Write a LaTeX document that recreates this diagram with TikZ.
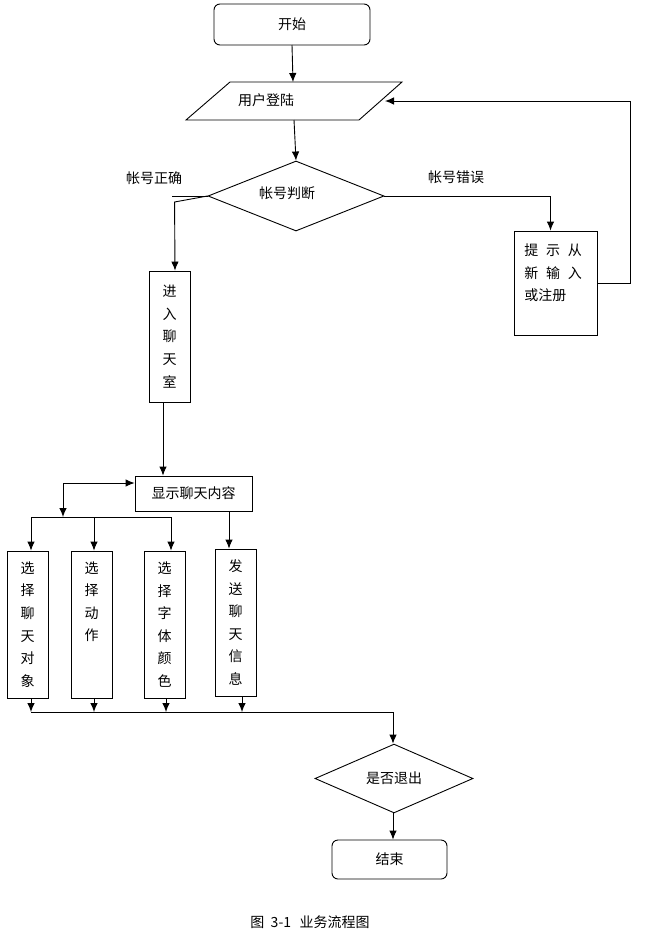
\documentclass[tikz,border=0pt]{standalone}
\usepackage{fontspec}
\setmainfont{Noto Sans CJK SC}
\usetikzlibrary{shapes.geometric,arrows.meta}
\tikzset{
  >={Latex[length=9pt,width=7.5pt]},
  box/.style={draw, rectangle, inner sep=0pt},
  startend/.style={box, rounded corners=6pt},
  decision/.style={draw, diamond, inner sep=0pt},
  vtext/.style={align=center, inner sep=0pt, font=\fontsize{14}{22.6}\selectfont},
}

\begin{document}
\begin{tikzpicture}[x=1pt, y=-1pt, line width=0.9pt, font=\fontsize{14}{17}\selectfont]
                        \useasboundingbox (0,0) rectangle (653,945);
                        \node[startend, minimum width=156pt, minimum height=41pt] (start) at (292,24.5) {开始};
                        \draw (230,82) -- (402,82) -- (359,120) -- (186,120) -- cycle;
                        \node (login) at (266,100) {用户登陆};
                        \coordinate (logintop) at (293,82);
                        \coordinate (loginbot) at (294,120);
                        \coordinate (loginin) at (385,101);
                        \node[decision, minimum width=176pt, minimum height=70pt] (judge) at (296,196) {};
                        \node (judgetext) at (287,193) {帐号判断};
                        \node (ok) at (154,178) {帐号正确};
                        \node (bad) at (456,177) {帐号错误};
                        \node[box, vtext, minimum width=41pt, minimum height=131pt] (enter) at (169.5,336.5) {进\\入\\聊\\天\\室};
                        \node[box, minimum width=83pt, minimum height=104pt] (retry) at (555.5,283) {};
                        \node[vtext, anchor=west, align=left] (retrytext) at (524,273) {提\hspace{0.55em}示\hspace{0.55em}从\\新\hspace{0.55em}输\hspace{0.55em}入\\或注册};
                        \node[box, minimum width=117pt, minimum height=35pt] (show) at (193.5,493.5) {显示聊天内容};
                        \node[box, vtext, minimum width=41pt, minimum height=147pt] (obj) at (27.5,624.5) {选\\择\\聊\\天\\对\\象};
                        \node[box, minimum width=41pt, minimum height=147pt] (act) at (91.5,624.5) {};
                        \node[vtext, anchor=north] (acttext) at (91.5,561) {选\\择\\动\\作};
                        \node[box, vtext, minimum width=41pt, minimum height=147pt] (color) at (164.5,624.5) {选\\择\\字\\体\\颜\\色};
                        \node[box, vtext, minimum width=41pt, minimum height=147pt] (send) at (235.5,622.5) {发\\送\\聊\\天\\信\\息};
                        \node[decision, minimum width=158pt, minimum height=67pt] (quit) at (394,778.5) {是否退出};
                        \node[startend, minimum width=115pt, minimum height=39pt] (end) at (389.5,859.5) {结束};
                        \node (caption) at (310,922) {图\hspace{0.45em}3-1\hspace{0.6em}业务流程图};
                        \coordinate (split) at (63,483);
                        \coordinate (bustop) at (0,517);
                        \coordinate (busbot) at (0,712);
                        \draw[->] (start.south |- 0,45) -- (logintop);
                        \draw[->] (loginbot) -- (judge.north);
                        \draw (judge.west) -- ++(-36,0);
                        \draw[->] (judge.west) -- ++(-33,6) -- ([xshift=5.5]enter.north);
                        \draw[->] (judge.east) -| ([xshift=-5]retry.north);
                        \draw[->] (retry.east) -- ++(33,0) |- (loginin);
                        \draw[->] ([xshift=-6.5]enter.south) -- ([xshift=-6.5]enter.south |- show.north);
                        \draw[->] (split) -- (split -| show.west);
                        \draw[->] (split) -- (split |- bustop);
                        \draw ([xshift=3.5]obj.north |- bustop) -- ([xshift=6.5]color.north |- bustop);
                        \foreach \n/\d in {obj/3.5, act/2.5, color/6.5}
                          \draw[->] ([xshift=\d]\n.north |- bustop) -- ([xshift=\d]\n.north);
                        \draw[->] ([xshift=35.5]show.south) -- ([xshift=35.5]show.south |- send.north);
                        \foreach \n/\d in {obj/3.5, act/2.5, color/1.5, send/6.5}
                          \draw[->] ([xshift=\d]\n.south) -- ([xshift=\d]\n.south |- busbot);
                        \draw[->] ([xshift=3.5]obj.south |- busbot) -| ([xshift=-1]quit.north);
                        \draw[->] ([xshift=-1]quit.south) -- ([xshift=-1]quit.south |- end.north);
                    \end{tikzpicture}
\end{document}
